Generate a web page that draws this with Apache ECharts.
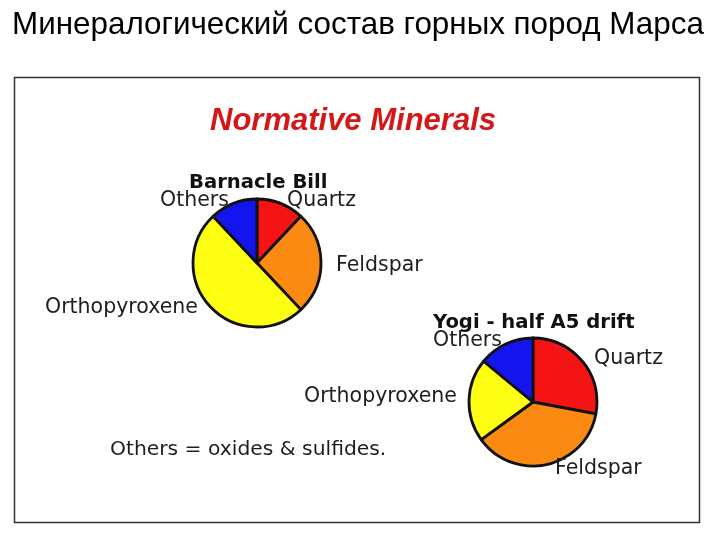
<!DOCTYPE html>
<html><head><meta charset="utf-8">
<script src="https://cdn.jsdelivr.net/npm/echarts@6/dist/echarts.min.js"></script>
<style>html,body{margin:0;padding:0;background:#fff}#c{width:720px;height:540px}</style>
</head><body><div id="c"></div>
<script>
const pageTitle = 'Минералогический состав горных пород Марса';
const chartTitle = 'Normative Minerals';
const minerals = ['Quartz', 'Feldspar', 'Orthopyroxene', 'Others'];
const barnacleBill = [12, 26, 50, 12];
const yogi = [28, 37, 21, 14];
const pieNames = ['Barnacle Bill', 'Yogi - half A5 drift'];
const footnote = 'Others = oxides & sulfides.';
const colors = ['#f41414', '#fb8a12', '#ffff14', '#1414ee'];

// label anchor positions (left x, middle y) per pie, per mineral
const labelPos = [
  [[287, 201], [336, 266], [45, 308], [160, 201]],
  [[594, 359], [555, 469], [304, 397], [433, 341]]
];

const chart = echarts.init(document.getElementById('c'));
const font = 'Liberation Sans';
const wide = 'DejaVu Sans';
function pie(name, values, center, si) {
  return {
    type: 'pie', name: name, center: center, radius: 64, startAngle: 90, clockwise: true,
    silent: true, animation: false,
    data: minerals.map((m, i) => ({ name: m, value: values[i], itemStyle: { color: colors[i] } })),
    itemStyle: { borderColor: '#111', borderWidth: 2.8 },
    label: { show: true, position: 'outside', formatter: '{b}', color: '#1e1e1e', fontSize: 20.5, fontFamily: wide },
    labelLine: { show: false },
    labelLayout: function (p) {
      const q = labelPos[si][p.dataIndex];
      return { x: q[0], y: q[1], align: 'left', verticalAlign: 'middle' };
    }
  };
}
chart.setOption({
  backgroundColor: '#fff',
  title: [
    { text: pageTitle, left: 7, top: 5, textStyle: { fontSize: 31.4, fontWeight: 'normal', color: '#000', fontFamily: font } },
    { text: chartTitle, left: 205, top: 101, textStyle: { fontSize: 31, fontWeight: 'bold', fontStyle: 'italic', color: '#d41818', fontFamily: font } }
  ],
  graphic: [
    { type: 'rect', shape: { x: 14.5, y: 77.5, width: 685, height: 445 }, style: { fill: 'none', stroke: '#333', lineWidth: 1.5 }, z: -1 },
    { type: 'text', left: 189, top: 173, style: { text: pieNames[0], font: 'bold 19.6px "DejaVu Sans"', fill: '#111' } },
    { type: 'text', left: 433, top: 313, style: { text: pieNames[1], font: 'bold 19.6px "DejaVu Sans"', fill: '#111' } },
    { type: 'text', left: 110, top: 440, style: { text: footnote, font: '20.3px "DejaVu Sans"', fill: '#1e1e1e' } }
  ],
  series: [
    pie(pieNames[0], barnacleBill, [257, 263], 0),
    pie(pieNames[1], yogi, [533, 402], 1)
  ]
});
</script></body></html>
